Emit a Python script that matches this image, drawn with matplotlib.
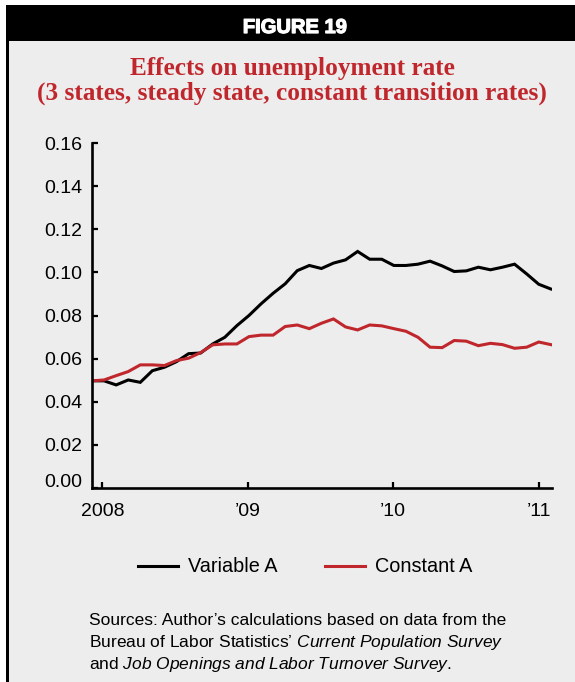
import matplotlib
matplotlib.use("Agg")
import matplotlib.pyplot as plt
import matplotlib.patheffects as pe
from matplotlib.patches import Rectangle

# Monthly series, Dec 2007 .. Feb 2011
variable_a = [0.0497, 0.0497, 0.0478, 0.0501, 0.0490, 0.0544, 0.0560, 0.0586, 0.0623, 0.0626,
              0.0668, 0.0699, 0.0753, 0.0800, 0.0854, 0.0903, 0.0947, 0.1008, 0.1032, 0.1018,
              0.1043, 0.1058, 0.1097, 0.1061, 0.1061, 0.1032, 0.1032, 0.1038, 0.1052, 0.1030,
              0.1004, 0.1007, 0.1024, 0.1012, 0.1024, 0.1038, 0.0993, 0.0945, 0.0923]
constant_a = [0.0497, 0.0501, 0.0521, 0.0540, 0.0571, 0.0571, 0.0568, 0.0591, 0.0602, 0.0628,
              0.0664, 0.0668, 0.0668, 0.0702, 0.0709, 0.0709, 0.0749, 0.0756, 0.0739, 0.0764,
              0.0784, 0.0747, 0.0733, 0.0756, 0.0752, 0.0739, 0.0727, 0.0699, 0.0653, 0.0651,
              0.0684, 0.0681, 0.0660, 0.0671, 0.0665, 0.0648, 0.0653, 0.0677, 0.0665]
year_labels = ["2008", "\u201909", "\u201910", "\u201911"]
y_ticks = [0.00, 0.02, 0.04, 0.06, 0.08, 0.10, 0.12, 0.14, 0.16]

panel_colour = '#ededed'
red = '#c0272d'
sans = 'Liberation Sans'

plt.rcParams['mathtext.fontset'] = 'custom'
plt.rcParams['mathtext.it'] = 'Liberation Sans:italic'
plt.rcParams['mathtext.rm'] = 'Liberation Sans'

fig = plt.figure(figsize=(5.75, 6.82), dpi=100)
fig.patch.set_facecolor('white')

W, H = 575.0, 682.0
# background panel, left rule and header bar
fig.patches.append(Rectangle((6 / W, 0), 1, 1 - 41 / H, transform=fig.transFigure,
                             facecolor=panel_colour, edgecolor='none', zorder=-2))
fig.patches.append(Rectangle((6 / W, 0), 3 / W, 1 - 5 / H, transform=fig.transFigure,
                             facecolor='black', edgecolor='none', zorder=-1))
fig.patches.append(Rectangle((6 / W, 1 - 41 / H), 1, 36 / H, transform=fig.transFigure,
                             facecolor='black', edgecolor='none', zorder=-1))

fig.text(295 / W, 1 - 33 / H, "FIGURE 19", color='white', fontsize=14.5, fontweight='heavy',
         family=sans, ha='center', va='baseline',
         path_effects=[pe.withStroke(linewidth=0.9, foreground='white')])
fig.text(292 / W, 1 - 75 / H, "Effects on unemployment rate", color=red, fontsize=18.2,
         fontweight='bold', family='Liberation Serif', ha='center', va='baseline')
fig.text(292 / W, 1 - 100 / H, "(3 states, steady state, constant transition rates)", color=red,
         fontsize=18.2, fontweight='bold', family='Liberation Serif', ha='center', va='baseline')

ax = fig.add_axes([92 / W, 1 - 488 / H, 460 / W, 345 / H])
ax.set_facecolor('none')
x = list(range(len(variable_a)))
ax.plot(x, variable_a, color='black', lw=2.2, label='Variable A', solid_joinstyle='miter')
ax.plot(x, constant_a, color=red, lw=2.2, label='Constant A', solid_joinstyle='miter')

ax.set_xlim(0, 38.1)
ax.set_ylim(0, 0.16)
ax.set_yticks(y_ticks)
# the 0.00 label sits a little above the x axis, drawn separately below
ax.set_yticklabels([""] + [f"{v:.2f}" for v in y_ticks[1:]])
ax.set_xticks([0.85, 12.9, 24.95, 37.0])
ax.set_xticklabels(year_labels)
for s in ['top', 'right']:
    ax.spines[s].set_visible(False)
for s in ['left', 'bottom']:
    ax.spines[s].set_linewidth(1.9)
ax.tick_params(direction='in', length=4, width=1.6, labelsize=14, colors='black')
ax.tick_params(axis='y', pad=7)
ax.tick_params(axis='x', pad=11)
for lab in ax.get_xticklabels() + ax.get_yticklabels():
    lab.set_family(sans)
ax.annotate(f"{y_ticks[0]:.2f}", xy=(0, 0), xycoords='axes fraction', xytext=(-7, 4.3),
            textcoords='offset points', ha='right', va='center', fontsize=14, family=sans)

leg = fig.legend(loc='center', bbox_to_anchor=(305 / W, 1 - 567 / H), ncol=2, frameon=False,
                 handlelength=2.0, handletextpad=0.5, columnspacing=2.4,
                 prop={'family': sans, 'size': 14.3})

src_kw = dict(fontsize=12.5, family=sans, ha='left', va='baseline', color='black')
fig.text(89 / W, 1 - 625 / H, "Sources: Author\u2019s calculations based on data from the", **src_kw)
fig.text(89 / W, 1 - 647 / H,
         "Bureau of Labor Statistics\u2019 " + r"$\mathit{Current\ Population\ Survey}$", **src_kw)
fig.text(89 / W, 1 - 669 / H, r"and $\mathit{Job\ Openings\ and\ Labor\ Turnover\ Survey}$.", **src_kw)

fig.savefig("out.png", dpi=100, facecolor=fig.get_facecolor())
